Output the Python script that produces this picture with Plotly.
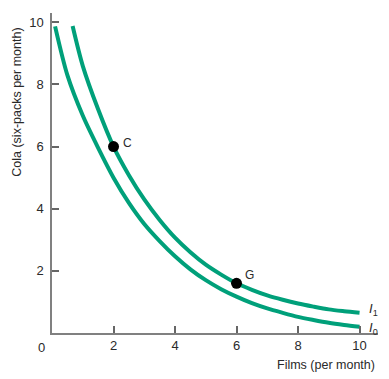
import plotly.graph_objects as go

# Indifference curve I1 (outer)
i1_x = [0.67, 1.0, 1.5, 2.0, 2.5, 3.0, 3.5, 4.0, 4.5, 5.0, 5.5, 6.0, 6.5, 7.0, 7.5, 8.0, 8.5, 9.0, 9.5, 10.0]
i1_y = [9.88, 8.6, 7.2, 6.0, 5.08, 4.3, 3.64, 3.07, 2.6, 2.2, 1.88, 1.6, 1.39, 1.21, 1.07, 0.95, 0.85, 0.76, 0.7, 0.65]
# Indifference curve I0 (inner)
i0_x = [0.1, 0.5, 1.0, 1.5, 2.0, 2.5, 3.0, 3.5, 4.0, 4.5, 5.0, 5.5, 6.0, 6.5, 7.0, 7.5, 8.0, 8.5, 9.0, 9.5, 10.0]
i0_y = [9.87, 8.3, 7.0, 5.96, 5.0, 4.19, 3.51, 2.96, 2.47, 2.05, 1.7, 1.41, 1.17, 0.96, 0.79, 0.65, 0.52, 0.42, 0.33, 0.26, 0.2]
# Points
pt_labels = ["C", "G"]
pt_x = [2, 6]
pt_y = [6, 1.6]
ticks = [2, 4, 6, 8, 10]

GREEN = "#00a07a"
FONT = "Liberation Sans"
TXT = "#2a2a2a"

fig = go.Figure()
for xs, ys in ((i1_x, i1_y), (i0_x, i0_y)):
    fig.add_trace(go.Scatter(x=xs, y=ys, mode="lines",
                             line=dict(color=GREEN, width=4, shape="spline", smoothing=0.8),
                             hoverinfo="skip"))
fig.add_trace(go.Scatter(x=pt_x, y=pt_y, mode="markers",
                         marker=dict(color="black", size=11), hoverinfo="skip"))

annotations = [
    dict(x=2.24, y=6.12, text=pt_labels[0], xanchor="left", yanchor="middle",
         xref="x", yref="y", font=dict(size=12)),
    dict(x=6.21, y=1.87, text=pt_labels[1], xanchor="left", yanchor="middle",
         xref="x", yref="y", font=dict(size=12)),
    dict(x=10.25, y=0.77, text="<i>I</i><sub>1</sub>", xanchor="left", yanchor="middle",
         xref="x", yref="y", font=dict(size=13)),
    dict(x=10.25, y=0.16, text="<i>I</i><sub>0</sub>", xanchor="left", yanchor="middle",
         xref="x", yref="y", font=dict(size=13)),
    dict(x=-0.031, y=-0.044, text="0", xanchor="center", yanchor="middle",
         xref="paper", yref="paper", font=dict(size=13)),
    dict(x=0.997, y=-0.1, text="Films (per month)", xanchor="right", yanchor="middle",
         xref="paper", yref="paper", font=dict(size=12.5)),
    dict(x=-0.11, y=0.72, text="Cola (six-packs per month)", textangle=-90,
         xanchor="center", yanchor="middle", xref="paper", yref="paper", font=dict(size=12.5)),
]
for a in annotations:
    a.update(showarrow=False)
    a["font"].update(family=FONT, color=TXT)

# The page body adds an 8px offset, so the figure is 8px smaller with reduced left/top margins
fig.update_layout(
    width=381, height=371,
    margin=dict(l=44, r=11, t=5, b=46, autoexpand=False),
    paper_bgcolor="white", plot_bgcolor="white",
    showlegend=False,
    annotations=annotations,
    font=dict(family=FONT, size=13, color=TXT),
)
axis_style = dict(ticks="inside", ticklen=7, tickcolor="#666", tickwidth=1.5,
                  showline=True, linecolor="#808080", linewidth=1.5,
                  showgrid=False, zeroline=False,
                  tickfont=dict(family=FONT, size=13, color=TXT))
fig.update_xaxes(range=[0, 10.6], tickvals=ticks, **axis_style)
fig.update_yaxes(range=[0, 10.3], tickvals=ticks, ticklabelstandoff=4, **axis_style)

fig.write_html("out.html")
